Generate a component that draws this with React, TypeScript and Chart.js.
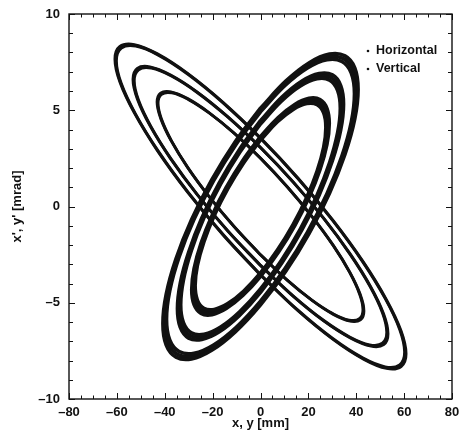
import { useEffect, useRef } from 'react';
import { Chart, registerables } from 'chart.js';

Chart.register(...registerables);

// Series names (legend)
const seriesLabels = ['Horizontal', 'Vertical'];

// Labelled tick values
const xTickLabels = [-80, -60, -40, -20, 0, 20, 40, 60, 80];
const yTickLabels = [-10, -5, 0, 5, 10];

// Horizontal phase-space rings (x [mm], x' [mrad])
const horizontalOuter: [number, number][] = [
  [0, -3.55], [-15.66, -1.46], [-30.25, 0.73], [-42.78, 2.87], [-52.39, 4.82], [-58.44, 6.43],
  [-60.5, 7.61], [-58.44, 8.27], [-52.39, 8.37], [-42.78, 7.89], [-30.25, 6.88], [-15.66, 5.4],
  [0, 3.55], [15.66, 1.46], [30.25, -0.73], [42.78, -2.87], [52.39, -4.82], [58.44, -6.43],
  [60.5, -7.61], [58.44, -8.27], [52.39, -8.37], [42.78, -7.89], [30.25, -6.88], [15.66, -5.4],
];
const horizontalMiddle: [number, number][] = [
  [0, -3.06], [-13.72, -1.26], [-26.5, 0.63], [-37.48, 2.48], [-45.9, 4.16], [-51.19, 5.55],
  [-53, 6.57], [-51.19, 7.14], [-45.9, 7.22], [-37.48, 6.81], [-26.5, 5.94], [-13.72, 4.66],
  [0, 3.06], [13.72, 1.26], [26.5, -0.63], [37.48, -2.48], [45.9, -4.16], [51.19, -5.55],
  [53, -6.57], [51.19, -7.14], [45.9, -7.22], [37.48, -6.81], [26.5, -5.94], [13.72, -4.66],
];
const horizontalInner: [number, number][] = [
  [0, -2.51], [-11.13, -1.03], [-21.5, 0.52], [-30.41, 2.03], [-37.24, 3.41], [-41.53, 4.56],
  [-43, 5.39], [-41.53, 5.86], [-37.24, 5.93], [-30.41, 5.59], [-21.5, 4.87], [-11.13, 3.82],
  [0, 2.51], [11.13, 1.03], [21.5, -0.52], [30.41, -2.03], [37.24, -3.41], [41.53, -4.56],
  [43, -5.39], [41.53, -5.86], [37.24, -5.93], [30.41, -5.59], [21.5, -4.87], [11.13, -3.82],
];

// Vertical phase-space rings (y [mm], y' [mrad])
const verticalOuter: [number, number][] = [
  [0, 5.01], [-10.35, 3.3], [-20, 1.35], [-28.28, -0.68], [-34.64, -2.67], [-38.64, -4.47],
  [-40, -5.97], [-38.64, -7.07], [-34.64, -7.68], [-28.28, -7.77], [-20, -7.33], [-10.35, -6.39],
  [0, -5.01], [10.35, -3.3], [20, -1.35], [28.28, 0.68], [34.64, 2.67], [38.64, 4.47],
  [40, 5.97], [38.64, 7.07], [34.64, 7.68], [28.28, 7.77], [20, 7.33], [10.35, 6.39],
];
const verticalMiddle: [number, number][] = [
  [0, 4.37], [-8.8, 2.87], [-17, 1.18], [-24.04, -0.59], [-29.44, -2.33], [-32.84, -3.9],
  [-34, -5.21], [-32.84, -6.16], [-29.44, -6.7], [-24.04, -6.77], [-17, -6.39], [-8.8, -5.57],
  [0, -4.37], [8.8, -2.87], [17, -1.18], [24.04, 0.59], [29.44, 2.33], [32.84, 3.9],
  [34, 5.21], [32.84, 6.16], [29.44, 6.7], [24.04, 6.77], [17, 6.39], [8.8, 5.57],
];
const verticalInner: [number, number][] = [
  [0, 3.54], [-7.25, 2.32], [-14, 0.95], [-19.8, -0.48], [-24.25, -1.88], [-27.05, -3.15],
  [-28, -4.21], [-27.05, -4.98], [-24.25, -5.42], [-19.8, -5.48], [-14, -5.17], [-7.25, -4.51],
  [0, -3.54], [7.25, -2.32], [14, -0.95], [19.8, 0.48], [24.25, 1.88], [27.05, 3.15],
  [28, 4.21], [27.05, 4.98], [24.25, 5.42], [19.8, 5.48], [14, 5.17], [7.25, 4.51],
];

const FONT_FAMILY = '"Liberation Sans", Arial, Helvetica, sans-serif';
const INK = '#111';

const fmt = (v: number) => (v < 0 ? '\u2013' + Math.abs(v) : String(v));

// Gives each ring the look of a band of scattered tracking points:
// the same line element is stroked again, slightly scaled about the origin.
const bandPlugin = {
  id: 'band',
  afterDatasetDraw(chart: any, args: any) {
    const ds = chart.data.datasets[args.index];
    const spread = ds.bandSpread;
    if (!spread) return;
    const { ctx, scales } = chart;
    const cx = scales.x.getPixelForValue(0);
    const cy = scales.y.getPixelForValue(0);
    [1 - spread, 1 + spread].forEach((s) => {
      ctx.save();
      ctx.translate(cx, cy);
      ctx.scale(s, s);
      ctx.translate(-cx, -cy);
      args.meta.dataset.draw(ctx, chart.chartArea);
      ctx.restore();
    });
  },
};

const framePlugin = {
  id: 'frameAndLegend',
  afterDraw(chart: any) {
    const { ctx, chartArea: a, scales } = chart;
    ctx.save();
    ctx.strokeStyle = INK;
    ctx.lineWidth = 1.4;
    ctx.strokeRect(a.left, a.top, a.right - a.left, a.bottom - a.top);
    ctx.lineWidth = 1;
    ctx.beginPath();
    scales.x.ticks.forEach((t: any) => {
      const px = Math.round(scales.x.getPixelForValue(t.value)) + 0.5;
      const len = xTickLabels.includes(t.value) ? 6 : 3.5;
      ctx.moveTo(px, a.bottom);
      ctx.lineTo(px, a.bottom - len);
      ctx.moveTo(px, a.top);
      ctx.lineTo(px, a.top + len);
    });
    scales.y.ticks.forEach((t: any) => {
      const py = Math.round(scales.y.getPixelForValue(t.value)) + 0.5;
      const len = yTickLabels.includes(t.value) ? 6 : 4;
      ctx.moveTo(a.left, py);
      ctx.lineTo(a.left + len, py);
      ctx.moveTo(a.right, py);
      ctx.lineTo(a.right - len, py);
    });
    ctx.stroke();

    // legend inside the plot, top right
    ctx.fillStyle = INK;
    ctx.font = `bold 12.5px ${FONT_FAMILY}`;
    ctx.textBaseline = 'middle';
    ctx.textAlign = 'left';
    seriesLabels.forEach((label, i) => {
      const y = a.top + 37 + i * 18;
      const x = a.right - 84;
      ctx.beginPath();
      ctx.arc(x, y, 1.3, 0, Math.PI * 2);
      ctx.fill();
      ctx.fillText(label, x + 8, y);
    });
    ctx.restore();
  },
};

export default function App() {
  const ref = useRef<HTMLCanvasElement>(null);

  useEffect(() => {
    document.body.style.margin = '0';
    if (!ref.current) return;

    const close = (pts: [number, number][]) => [...pts, pts[0]].map(([x, y]) => ({ x, y }));
    const ring = (pts: [number, number][], series: number, width: number, spread: number) => ({
      label: seriesLabels[series],
      data: close(pts),
      showLine: true,
      borderColor: INK,
      backgroundColor: INK,
      borderWidth: width,
      pointRadius: 0,
      tension: 0.4,
      fill: false,
      bandSpread: spread,
    });

    const tickFont = { family: FONT_FAMILY, size: 13, weight: 'bold' as const };

    const chart = new Chart(ref.current, {
      type: 'scatter',
      data: {
        datasets: [
          ring(horizontalOuter, 0, 2.6, 0.006),
          ring(horizontalMiddle, 0, 2.6, 0.006),
          ring(horizontalInner, 0, 2.6, 0.006),
          ring(verticalOuter, 1, 3.6, 0.019),
          ring(verticalMiddle, 1, 3.6, 0.02),
          ring(verticalInner, 1, 3.8, 0.024),
        ],
      },
      options: {
        animation: false,
        responsive: false,
        devicePixelRatio: 1,
        layout: { padding: { left: 0, right: 8, top: 14, bottom: 0 } },
        plugins: {
          legend: { display: false },
          tooltip: { enabled: false },
        },
        scales: {
          x: {
            type: 'linear',
            min: -80,
            max: 80,
            grid: { display: false, drawTicks: false },
            border: { display: false },
            ticks: {
              stepSize: 5,
              autoSkip: false,
              maxRotation: 0,
              padding: 6,
              color: INK,
              font: tickFont,
              callback: (v: any) => (xTickLabels.includes(Number(v)) ? fmt(Number(v)) : ''),
            },
            title: {
              display: true,
              text: 'x, y [mm]',
              color: INK,
              font: tickFont,
              padding: { top: 0, bottom: 7 },
            },
            afterFit: (s: any) => {
              s.height = 39;
              s.paddingLeft = 0;
              s.paddingRight = 0;
            },
          },
          y: {
            type: 'linear',
            min: -10,
            max: 10,
            grid: { display: false, drawTicks: false },
            border: { display: false },
            ticks: {
              stepSize: 1,
              autoSkip: false,
              padding: 9,
              color: INK,
              font: tickFont,
              callback: (v: any) => (yTickLabels.includes(Number(v)) ? fmt(Number(v)) : ''),
            },
            title: {
              display: true,
              text: "x', y' [mrad]",
              color: INK,
              font: tickFont,
              padding: { top: 10, bottom: 0 },
            },
            afterFit: (s: any) => {
              s.width = 69;
              s.paddingTop = 0;
              s.paddingBottom = 0;
            },
          },
        },
      },
      plugins: [bandPlugin, framePlugin],
    } as any);

    return () => chart.destroy();
  }, []);

  return (
    <canvas
      ref={ref}
      width={460}
      height={438}
      style={{ display: 'block', width: 460, height: 438 }}
    />
  );
}
